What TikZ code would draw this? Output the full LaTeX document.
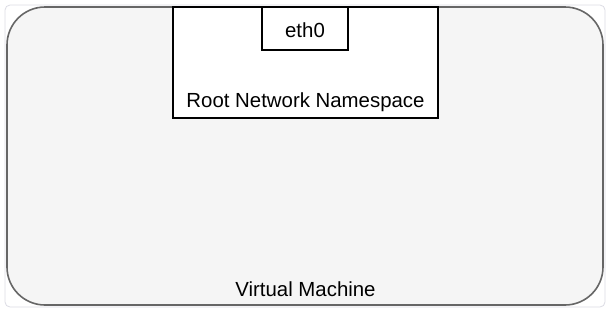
\documentclass[tikz,border=0pt]{standalone}
\usepackage{fontspec}
\setmainfont{Liberation Sans}
\definecolor{vmfill}{HTML}{F5F5F5}
\definecolor{vmline}{HTML}{666666}
\definecolor{frameline}{HTML}{DCDCE4}
\begin{document}
\begin{tikzpicture}[x=1pt,y=-1pt,
  label text/.style={font=\fontsize{20.4}{24}\selectfont, text=black},
  plainbox/.style={draw=black, line width=1.3pt, fill=white}]
\useasboundingbox (0,0) rectangle (606,309);
% outer frame
\draw[frameline, line width=0.8pt, rounded corners=5pt, fill=white] (5,5) rectangle (605,307);
% virtual machine
\draw[vmline, line width=1.6pt, fill=vmfill, rounded corners=38pt] (7,7) rectangle (603,305);
\node[label text] (vm) at (305.5,289) {Virtual Machine};
% root namespace
\draw[plainbox] (173,7) rectangle (438,118);
\node[label text] (root) at (305.5,102) {Root Network Namespace};
% interface
\draw[plainbox] (262,7) rectangle (348,50);
\node[label text] (eth) at (305,30) {eth0};
\end{tikzpicture}
\end{document}
